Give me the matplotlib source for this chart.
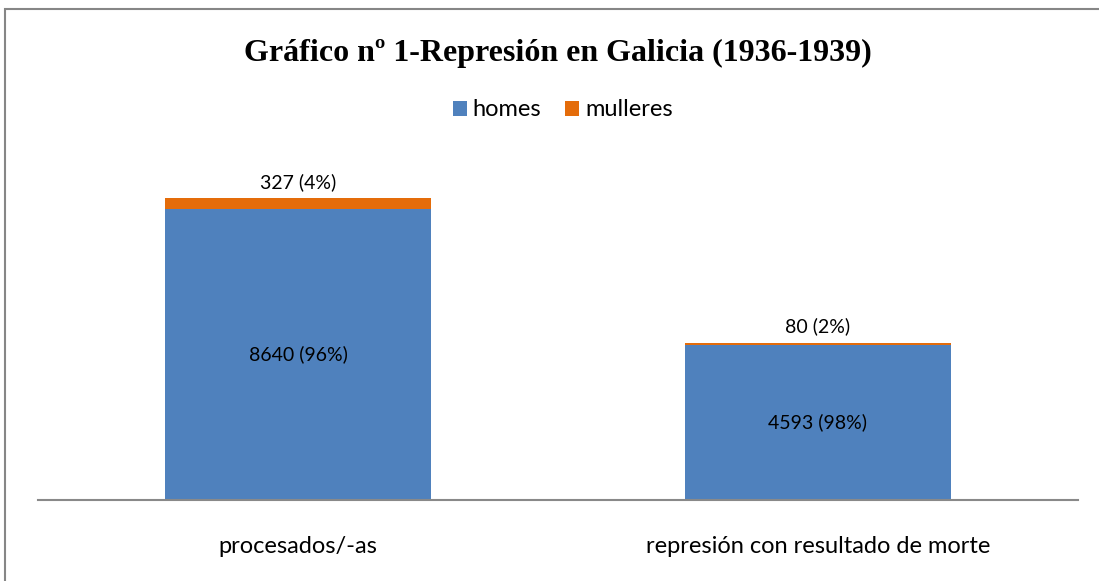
"""
Gráfico nº 1 - Represión en Galicia (1936-1939)
Stacked bars: homes / mulleres
"""

import matplotlib.pyplot as plt
from matplotlib.patches import Rectangle

# Data
categories = ['procesados/-as', 'represión con resultado de morte']
homes = [8640, 4593]
mulleres = [327, 80]
homes_labels = ['8640 (96%)', '4593 (98%)']
mulleres_labels = ['327 (4%)', '80 (2%)']

blue = '#4F81BD'
orange = '#E46C0A'
axis_gray = '#898989'


def plot_data():
    fig = plt.figure(figsize=(10.99, 5.81), dpi=100)
    ax = fig.add_axes([38 / 1099, 1 - 500 / 581, 1040 / 1099, 337 / 581])

    x = range(len(categories))
    ax.bar(x, homes, width=0.51, color=blue, label='homes')
    ax.bar(x, mulleres, width=0.51, bottom=homes, color=orange, label='mulleres')

    # Value labels
    for i in x:
        ax.text(i, homes[i] / 2, homes_labels[i], ha='center', va='center',
                fontsize=14, family='Lato', color='black')
        ax.annotate(mulleres_labels[i], (i, homes[i] + mulleres[i]),
                    xytext=(0, 5), textcoords='offset points',
                    ha='center', va='bottom', fontsize=14, family='Lato')

    ax.set_xlim(-0.5, 1.5)
    ax.set_ylim(0, 10000)
    ax.set_xticks(list(x))
    ax.set_xticklabels(categories, fontsize=17, family='Lato')
    ax.tick_params(axis='x', length=0, pad=26)
    ax.set_yticks([])
    for side in ['top', 'right', 'left']:
        ax.spines[side].set_visible(False)
    ax.spines['bottom'].set_color(axis_gray)
    ax.spines['bottom'].set_linewidth(1.5)

    # Title and legend
    fig.text(558 / 1099, 1 - 53 / 581, 'Gráfico nº 1-Represión en Galicia (1936-1939)',
             ha='center', va='center', fontsize=23, fontweight='bold',
             family='Liberation Serif')
    fig.legend(loc='center', bbox_to_anchor=(0.512, 1 - 110 / 581), ncol=2,
               frameon=False, prop={'family': 'Lato', 'size': 17},
               handlelength=0.6, handleheight=0.6, handletextpad=0.25,
               columnspacing=1.0)

    # Chart border (cut off at right and bottom)
    fig.patches.append(Rectangle((4.5 / 1099, -0.05), 1.1, 1.05 - 9 / 581,
                                 transform=fig.transFigure, fill=False,
                                 edgecolor='#868686', linewidth=1.5))

    fig.savefig('out.png', dpi=100)


if __name__ == "__main__":
    plot_data()
